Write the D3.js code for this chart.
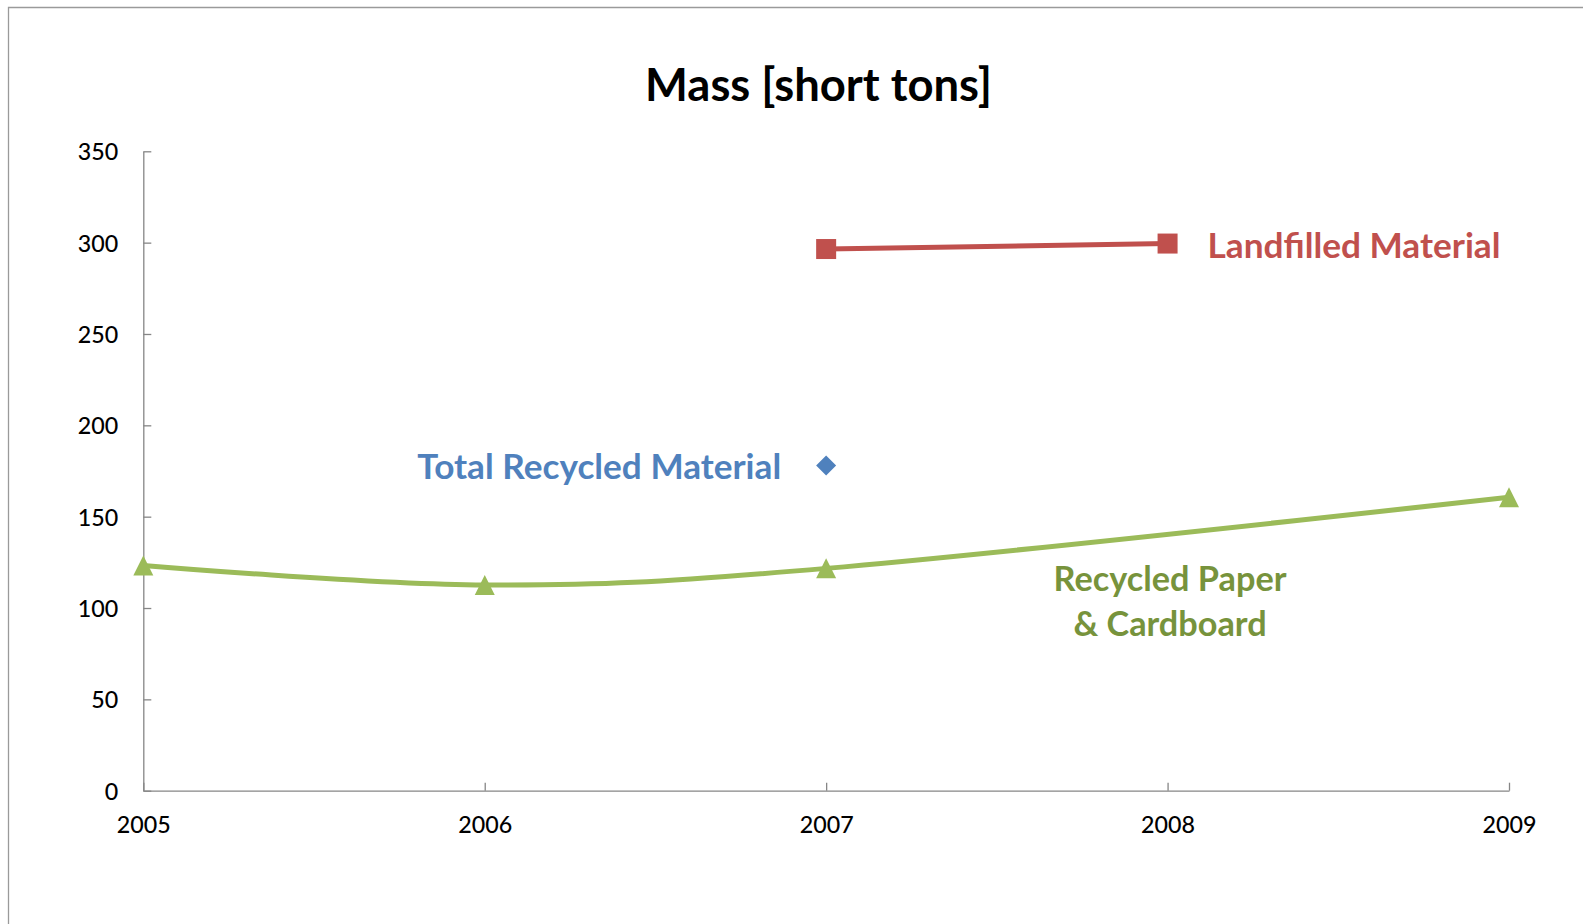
<!DOCTYPE html>
<html>
<head>
<meta charset="utf-8">
<script src="https://cdn.jsdelivr.net/npm/d3@7"></script>
<style>
  html, body { margin: 0; padding: 0; background: #fff; }
  svg { display: block; }
  text { font-family: Lato, "Noto Sans", sans-serif; }
</style>
</head>
<body>
<svg id="chart" width="1583" height="924"></svg>
<script>
// ---- data ----
const years = [2005, 2006, 2007, 2008, 2009];
const recycledPaper = [123.3, 112.6, 121.7, null, 160.6];
const landfilled = [null, null, 296.5, 299.5, null];
const totalRecycled = [null, null, 178, null, null];
const yTicks = [0, 50, 100, 150, 200, 250, 300, 350];
const titleText = "Mass [short tons]";
const labelLandfilled = "Landfilled Material";
const labelTotal = "Total Recycled Material";
const labelPaper = ["Recycled Paper", "& Cardboard"];

// ---- layout ----
const svg = d3.select("#chart");
const X0 = 143.3, X1 = 1509, Y0 = 790.7, Y1 = 151.3;
const axisColor = "#868686";
const red = "#C0504D", blue = "#4F81BD", green = "#9BBB59", greenText = "#77933C";

const x = d3.scaleLinear().domain([2005, 2009]).range([X0, X1]);
const y = d3.scaleLinear().domain([0, 350]).range([Y0, Y1]);

// chart area border (extends past the frame on right/bottom)
svg.append("path")
  .attr("d", `M8.5,935 L8.5,7.5 L1600,7.5`)
  .attr("fill", "none").attr("stroke", "#9a9a9a").attr("stroke-width", 1.3);

function fit(sel, target) {
  const fs = parseFloat(sel.attr("font-size"));
  const w = sel.node().getComputedTextLength();
  sel.attr("font-size", fs * target / w);
}

// title
const title = svg.append("text")
  .attr("x", 818.5).attr("y", 101)
  .attr("text-anchor", "middle")
  .attr("font-size", 40).attr("font-weight", 700).attr("fill", "#000")
  .text(titleText);
fit(title, 347);

// y axis
const yAxis = svg.append("g").attr("transform", `translate(${X0},0)`)
  .call(d3.axisLeft(y).tickValues(yTicks).tickSize(-8).tickSizeOuter(0).tickPadding(25));
// x axis
const xAxis = svg.append("g").attr("transform", `translate(0,${Y0})`)
  .call(d3.axisBottom(x).tickValues(years).tickFormat(d3.format("d")).tickSize(-8).tickSizeOuter(0));

[yAxis, xAxis].forEach(g => {
  g.select(".domain").attr("stroke", axisColor).attr("stroke-width", 1.3);
  g.selectAll(".tick line").attr("stroke", axisColor).attr("stroke-width", 1.3);
  g.selectAll(".tick text").attr("fill", "#000").attr("font-size", 23)
    .attr("font-family", "Lato, sans-serif").attr("font-weight", 500);
});
yAxis.selectAll(".tick text").attr("dy", "0.36em");
xAxis.selectAll(".tick text").attr("y", 34).attr("dy", "0.36em");

// fit tick font to reference width ("350" ≈ 40px)
{
  const t = yAxis.selectAll(".tick text").filter(d => d === 350);
  const w = t.node().getComputedTextLength();
  const fs = 23 * 40.5 / w;
  yAxis.selectAll(".tick text").attr("font-size", fs);
  xAxis.selectAll(".tick text").attr("font-size", fs);
}

// ---- series ----
const paperPts = years.map((yr, i) => ({yr, v: recycledPaper[i]})).filter(d => d.v != null);
const landPts = years.map((yr, i) => ({yr, v: landfilled[i]})).filter(d => d.v != null);
const totPts = years.map((yr, i) => ({yr, v: totalRecycled[i]})).filter(d => d.v != null);

const smooth = d3.line().x(d => x(d.yr)).y(d => y(d.v)).curve(d3.curveCardinal.tension(0));
const straight = d3.line().x(d => x(d.yr)).y(d => y(d.v));

svg.append("path").datum(paperPts).attr("d", smooth)
  .attr("fill", "none").attr("stroke", green).attr("stroke-width", 5).attr("stroke-linejoin", "round");
svg.append("path").datum(landPts).attr("d", straight)
  .attr("fill", "none").attr("stroke", red).attr("stroke-width", 5);

// markers
svg.selectAll(".tri").data(paperPts).enter().append("path")
  .attr("transform", d => `translate(${x(d.yr)},${y(d.v)})`)
  .attr("d", "M0,-10 L10,10 L-10,10 Z").attr("fill", green);
svg.selectAll(".sq").data(landPts).enter().append("rect")
  .attr("x", d => x(d.yr) - 10).attr("y", d => y(d.v) - 10)
  .attr("width", 20).attr("height", 20).attr("fill", red);
svg.selectAll(".dia").data(totPts).enter().append("path")
  .attr("transform", d => `translate(${x(d.yr)},${y(d.v)})`)
  .attr("d", "M0,-10 L10,0 L0,10 L-10,0 Z").attr("fill", blue);

// series labels
const l1 = svg.append("text").attr("x", 1207.5).attr("y", 258)
  .attr("font-size", 30).attr("font-weight", 700).attr("fill", red).text(labelLandfilled);
fit(l1, 293);
const l2 = svg.append("text").attr("x", 417.3).attr("y", 478.5)
  .attr("font-size", 30).attr("font-weight", 700).attr("fill", blue).text(labelTotal);
fit(l2, 364);
const l3 = svg.append("text").attr("x", 1170).attr("y", 591)
  .attr("font-size", 30).attr("font-weight", 700).attr("fill", greenText)
  .attr("text-anchor", "middle").text(labelPaper[0]);
fit(l3, 233);
const l4 = svg.append("text").attr("x", 1170).attr("y", 636)
  .attr("font-size", 30).attr("font-weight", 700).attr("fill", greenText)
  .attr("text-anchor", "middle").text(labelPaper[1]);
l4.attr("font-size", l3.attr("font-size"));
</script>
</body>
</html>
